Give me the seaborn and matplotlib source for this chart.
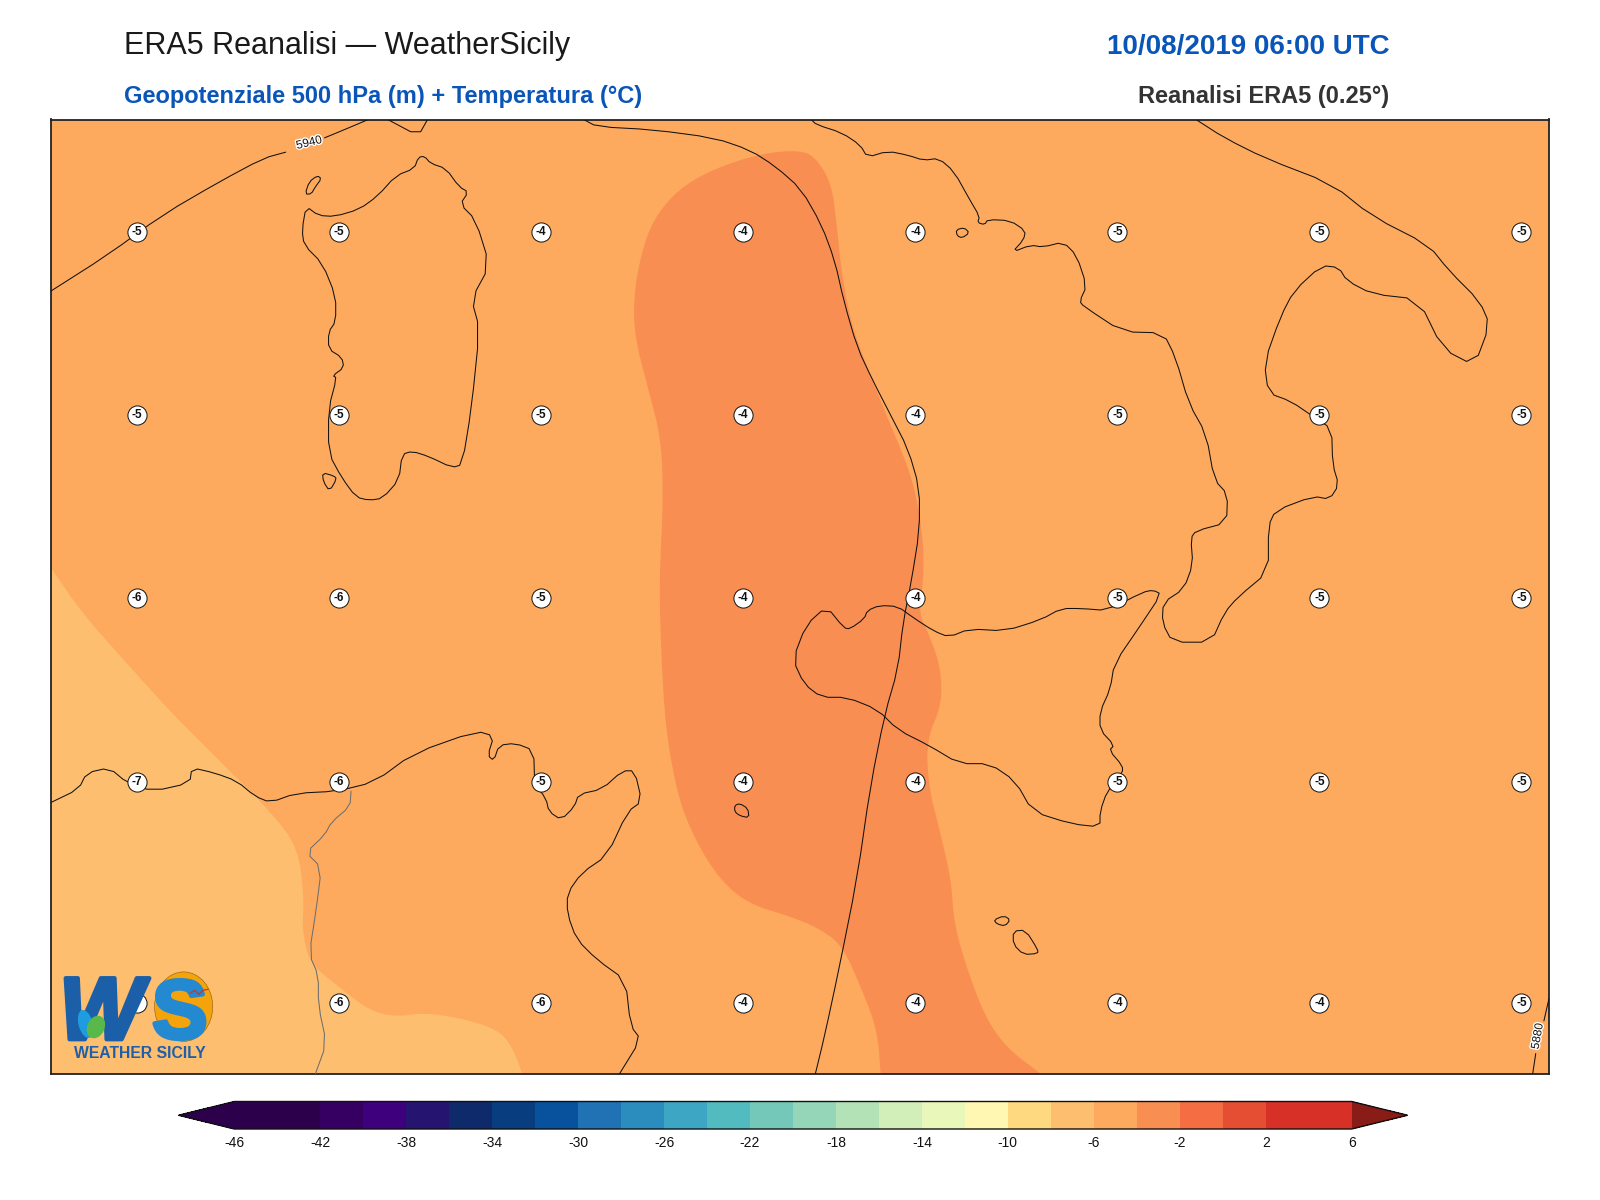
import matplotlib
matplotlib.use("Agg")
import matplotlib.patheffects as pe
import numpy as np
import pandas as pd
import seaborn as sns
from matplotlib import pyplot as plt
from matplotlib.cm import ScalarMappable
from matplotlib.colors import BoundaryNorm, ListedColormap
from matplotlib.patches import Ellipse, Polygon

# colour scale of the temperature field, one colour per 2 degree band
levels = list(range(-46, 8, 2))
band_colors = [
    "#2d004b", "#2d004b", "#360063", "#3f007d", "#251470", "#0f2a6b", "#083d7f",
    "#08519c", "#2171b5", "#2b8cbe", "#3ca6c4", "#52bbbf", "#74c8ba", "#95d5b8",
    "#b3e2b7", "#d3efb9", "#e9f7ba", "#fff7b2", "#fed980", "#fdbe70", "#fdaa5f",
    "#f98e52", "#f46d43", "#e54e32", "#d73027", "#d73027",
]
under_color = "#2d004b"
over_color = "#8a1c17"
cbar_ticks = list(range(-46, 8, 4))

# map frame, in map units
map_x = (50, 1518)
map_y = (1052, 117)

# temperature bands (value at the middle of the band, outline)
base_temp = -5
base_band = [(50, 117), (1518, 117), (1518, 1052), (50, 1052)]
cold_temp = -7
cold_band = [
    (20, 515), (50, 556), (80, 600), (120, 645), (165, 695), (200, 730), (230, 760), (265, 795),
    (292, 830), (298, 880), (296, 910), (303, 943), (330, 965), (362, 990), (388, 996),
    (415, 992), (450, 997), (487, 1008), (502, 1025), (512, 1052), (525, 1095), (530, 1300),
    (-300, 1300), (-300, 400),
]
warm_temp = -3
warm_band = [
    (747, 150), (785, 147), (800, 155), (815, 180), (820, 220), (825, 270), (835, 320),
    (852, 365), (870, 410), (885, 445), (897, 480), (905, 530), (905, 570), (900, 600),
    (912, 625), (922, 655), (923, 690), (908, 725), (910, 770), (920, 810), (932, 860),
    (935, 905), (948, 950), (965, 995), (985, 1025), (1020, 1052), (1065, 1085), (866, 1090),
    (863, 1052), (860, 1010), (845, 970), (825, 925), (800, 908), (775, 898), (730, 884),
    (700, 855), (675, 810), (662, 770), (652, 710), (648, 640), (646, 570), (650, 490),
    (648, 430), (635, 380), (622, 330), (621, 290), (628, 250), (640, 215), (665, 185), (700, 165),
]

# closed coast outlines
sardinia = [
    (300, 202), (312, 211), (328, 212), (352, 205), (370, 192), (388, 172), (406, 165),
    (410, 154), (416, 153), (422, 160), (437, 165), (450, 183), (459, 188), (451, 200),
    (466, 215), (480, 260), (462, 293), (470, 322), (462, 400), (453, 455), (443, 458),
    (420, 447), (404, 442), (394, 445), (391, 470), (375, 488), (362, 490), (349, 487),
    (335, 468), (322, 444), (322, 400), (330, 370), (326, 368), (337, 360), (335, 350),
    (322, 342), (322, 325), (329, 315), (329, 290), (316, 258), (298, 240), (296, 225),
]
asinara = [(299, 190), (303, 178), (311, 172), (315, 175), (309, 183), (305, 190)]
antioco = [(316, 463), (327, 466), (330, 469), (323, 481), (317, 472)]
ischia = [(937, 225), (945, 223), (950, 228), (943, 233), (938, 231)]
sicily = [
    (777, 646), (790, 612), (810, 594), (827, 615), (833, 616), (847, 606), (850, 598),
    (862, 593), (880, 594), (895, 605), (915, 618), (930, 624), (950, 616), (985, 618),
    (1020, 607), (1040, 596), (1060, 596), (1085, 598), (1120, 580), (1130, 578),
    (1138, 582), (1118, 612), (1092, 650), (1088, 675), (1078, 697), (1078, 715),
    (1092, 730), (1087, 735), (1100, 750), (1100, 757), (1085, 775), (1078, 795),
    (1078, 810), (1050, 807), (1012, 795), (995, 765), (970, 748), (940, 748), (910, 730),
    (880, 715), (860, 695), (830, 683), (805, 683), (788, 670),
]
pantelleria = [(720, 789), (725, 787), (733, 792), (734, 801), (725, 799), (720, 795)]
gozo = [(974, 901), (984, 897), (990, 901), (985, 907), (977, 905)]
malta = [(993, 912), (1005, 911), (1017, 930), (1017, 934), (1003, 935), (993, 925)]

# open coast lines
corsica = [(380, 117), (410, 133), (419, 117)]
italy_west = [
    (572, 117), (585, 124), (640, 127), (700, 135), (735, 147), (760, 163), (785, 185),
    (805, 220), (818, 255), (827, 295), (840, 340), (855, 372), (872, 405), (890, 440),
    (901, 478), (901, 520), (893, 570), (885, 610), (880, 655), (867, 700), (853, 770),
    (840, 860), (822, 950), (808, 1015), (799, 1052),
]
italy_south = [
    (795, 117), (800, 122), (825, 130), (843, 142), (850, 154), (870, 148), (890, 152),
    (905, 157), (920, 155), (935, 168), (950, 195), (960, 212), (958, 218), (965, 220),
    (968, 215), (990, 216), (1005, 226), (1003, 235), (992, 247), (1010, 240), (1022, 242),
    (1042, 237), (1055, 250), (1065, 280), (1058, 295), (1062, 300), (1100, 325), (1140, 326),
    (1152, 350), (1165, 395), (1182, 425), (1190, 470), (1203, 484), (1202, 512), (1172, 520),
    (1167, 527), (1169, 553), (1160, 577), (1140, 590), (1139, 610), (1149, 629), (1187, 629),
    (1200, 600), (1213, 585), (1243, 560), (1243, 515), (1250, 500), (1287, 486), (1303, 489),
    (1312, 475), (1306, 455), (1305, 420), (1287, 408), (1265, 393), (1243, 385), (1239, 355),
    (1255, 310), (1268, 285), (1295, 260), (1312, 262), (1320, 275), (1345, 288), (1390, 293),
    (1414, 342), (1445, 358), (1460, 318), (1450, 295), (1420, 265), (1400, 240), (1345, 212),
    (1305, 180), (1240, 155), (1200, 135), (1172, 117),
]
tunisia = [
    (50, 786), (77, 773), (85, 757), (107, 752), (125, 767), (150, 775), (186, 767), (188, 752),
    (210, 757), (232, 765), (250, 780), (265, 786), (290, 777), (330, 775), (367, 766), (405, 738),
    (467, 716), (484, 721), (478, 740), (484, 745), (489, 730), (505, 728), (523, 735), (524, 768),
    (535, 782), (538, 795), (550, 803), (563, 790), (567, 778), (590, 773), (610, 755), (622, 755),
    (629, 785), (615, 795), (595, 838), (570, 855), (556, 875), (556, 895), (565, 920), (585, 940),
    (613, 960), (618, 1005), (628, 1018), (607, 1052),
]
border = [
    (344, 775), (343, 790), (325, 805), (318, 818), (300, 835), (315, 850), (310, 890), (303, 935),
    (312, 955), (312, 985), (320, 1022), (309, 1052),
]

# geopotential isolines, split where the label sits
iso_5940_a = [(50, 285), (105, 250), (160, 210), (215, 178), (258, 155), (280, 149)]
iso_5940_b = [(318, 135), (335, 128), (361, 117)]
iso_5880_a = [(1518, 978), (1513, 1000)]
iso_5880_b = [(1505, 1032), (1502, 1052)]
iso_labels = ["5940", "5880"]
iso_label_x = [303, 1507]
iso_label_y = [140, 1015]
iso_label_rot = [14, 80]

# temperature values printed on the grid
grid_x = [134, 332, 530, 728, 897, 1095, 1293, 1491]
grid_y = [227, 406, 586, 766, 982]
grid_values = [
    [-5, -5, -4, -4, -4, -5, -5, -5],
    [-5, -5, -5, -4, -4, -5, -5, -5],
    [-6, -6, -5, -4, -4, -5, -5, -5],
    [-7, -6, -5, -4, -4, -5, -5, -5],
    [-7, -6, -6, -4, -4, -4, -4, -5],
]

title_left = "ERA5 Reanalisi — WeatherSicily"
title_right = "10/08/2019 06:00 UTC"
subtitle_left = "Geopotenziale 500 hPa (m) + Temperatura (°C)"
subtitle_right = "Reanalisi ERA5 (0.25°)"
blue = "#0a55b8"


def round_corners(points, closed=False, passes=2):
    # corner cutting only, the traced points stay where they are read
    pts = np.array(points, dtype=float)
    for _ in range(passes):
        nxt = np.roll(pts, -1, axis=0) if closed else pts[1:]
        cur = pts if closed else pts[:-1]
        q = 0.75 * cur + 0.25 * nxt
        r = 0.25 * cur + 0.75 * nxt
        new = np.empty((len(cur) * 2, 2))
        new[0::2] = q
        new[1::2] = r
        pts = new if closed else np.vstack([pts[0], new, pts[-1]])
    return pts


sns.set_theme(style="white")
plt.rcParams["font.family"] = ["Liberation Sans", "DejaVu Sans"]

cmap = ListedColormap(band_colors).with_extremes(under=under_color, over=over_color)
norm = BoundaryNorm(levels, len(band_colors))

fig = plt.figure(figsize=(16, 12), dpi=100)
ax = fig.add_axes([51 / 1600, 1 - 1074 / 1200, 1498 / 1600, 954.5 / 1200])

ax.add_patch(Polygon(base_band, closed=True, facecolor=cmap(norm(base_temp)), edgecolor="none", zorder=1))
for temp, band in [(cold_temp, cold_band), (warm_temp, warm_band)]:
    ax.add_patch(Polygon(round_corners(band, closed=True), closed=True, facecolor=cmap(norm(temp)),
                         edgecolor="none", zorder=1))

for outline in [sardinia, asinara, antioco, ischia, sicily, pantelleria, gozo, malta]:
    ax.add_patch(Polygon(round_corners(outline, closed=True, passes=1), closed=True, fill=False,
                         edgecolor="#111111", lw=0.75, zorder=3))
for line in [corsica, italy_west, italy_south, tunisia]:
    pts = round_corners(line, passes=1)
    ax.plot(pts[:, 0], pts[:, 1], color="#111111", lw=0.75, zorder=3)
pts = round_corners(border, passes=1)
ax.plot(pts[:, 0], pts[:, 1], color="#6e6e6e", lw=0.75, zorder=3)

for line in [iso_5940_a, iso_5940_b, iso_5880_a, iso_5880_b]:
    pts = round_corners(line, passes=1)
    ax.plot(pts[:, 0], pts[:, 1], color="#111111", lw=0.75, zorder=3)
for label, x, y, rot in zip(iso_labels, iso_label_x, iso_label_y, iso_label_rot):
    ax.text(x, y, label, fontsize=8.5, rotation=rot, ha="center", va="center", color="#111111", zorder=4,
            path_effects=[pe.withStroke(linewidth=2, foreground="white")])

rows = []
for y, row in zip(grid_y, grid_values):
    for x, value in zip(grid_x, row):
        rows.append({"x": x, "y": y, "value": value})
grid_df = pd.DataFrame(rows)
sns.scatterplot(data=grid_df, x="x", y="y", s=190, color="white", edgecolor="#111111", linewidth=0.7,
                legend=False, zorder=5, ax=ax)
for _, r in grid_df.iterrows():
    ax.text(r["x"], r["y"], f"{int(r['value'])}", fontsize=8.5, fontweight="bold", ha="center", va="center",
            color="#111111", zorder=6)

ax.set_xlim(*map_x)
ax.set_ylim(*map_y)
ax.set_xlabel("")
ax.set_ylabel("")
ax.set_xticks([])
ax.set_yticks([])
for spine in ax.spines.values():
    spine.set_visible(True)
    spine.set_color("#222222")
    spine.set_linewidth(1.3)

# logo in the lower left corner
ax.add_patch(Ellipse((180, 986), 57, 68, facecolor="#f5a30a", edgecolor="#8a5a10", lw=0.4, zorder=7))
ax.text(58, 1018, "W", fontsize=64, fontweight="bold", style="italic", color="#1a5fa8", ha="left",
        va="baseline", zorder=8, path_effects=[pe.withStroke(linewidth=3, foreground="#1a5fa8")])
ax.text(149, 1017, "S", fontsize=60, fontweight="bold", color="#2389d0", ha="left", va="baseline", zorder=9,
        path_effects=[pe.withStroke(linewidth=3, foreground="#2389d0")])
ax.add_patch(Ellipse((84, 1003), 14, 28, angle=-15, facecolor="#1f9be0", edgecolor="none", zorder=9))
ax.add_patch(Ellipse((94, 1006), 17, 23, angle=25, facecolor="#58b84a", edgecolor="none", zorder=10))
ax.plot([186, 191, 195, 199, 204], [973, 970, 974, 970, 969], color="#c0392b", lw=0.9, zorder=10)
ax.text(137.5, 1032, "WEATHER SICILY", fontsize=11.3, fontweight="bold", color="#1f5ea8", ha="center",
        va="center", zorder=8)

fig.text(123.6 / 1600, 1 - 46 / 1200, title_left, fontsize=22, color="#1a1a1a", ha="left", va="center")
fig.text(1389.5 / 1600, 1 - 47 / 1200, title_right, fontsize=20, fontweight="bold", color=blue, ha="right", va="center")
fig.text(123.6 / 1600, 1 - 97 / 1200, subtitle_left, fontsize=17, fontweight="bold", color=blue, ha="left", va="center")
fig.text(1389.5 / 1600, 1 - 97 / 1200, subtitle_right, fontsize=17, fontweight="bold", color="#333333", ha="right", va="center")

cax = fig.add_axes([178.5 / 1600, 71 / 1200, 1229 / 1600, 27.5 / 1200])
cbar = fig.colorbar(ScalarMappable(norm=norm, cmap=cmap), cax=cax, orientation="horizontal", extend="both",
                    extendfrac=0.05, ticks=cbar_ticks, spacing="uniform")
cbar.ax.minorticks_off()
cbar.ax.tick_params(length=0, labelsize=10, pad=5, colors="#111111")
cbar.outline.set_edgecolor("#111111")
cbar.outline.set_linewidth(1.0)
cbar.set_ticklabels([str(t) for t in cbar_ticks])

fig.savefig("out.png", dpi=100)
plt.close(fig)
